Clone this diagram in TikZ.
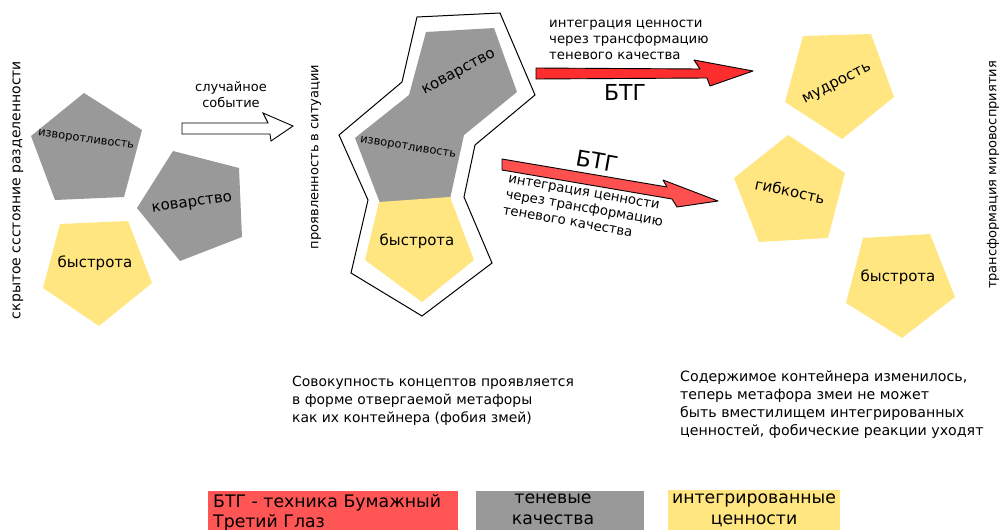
\documentclass[tikz,border=0pt]{standalone}
\usepackage{fontspec}
\setmainfont{DejaVu Sans}
\definecolor{shadowgray}{HTML}{999999}
\definecolor{valueyellow}{HTML}{FFE680}
\definecolor{btgred}{HTML}{FF5555}
\definecolor{arrowred}{HTML}{FF2E2E}
\definecolor{arrowredlight}{HTML}{FF5050}
\newcommand\fsz[2]{\fontsize{#1}{#2}\selectfont}
\tikzset{
  shadowq/.style={fill=shadowgray},
  valueq/.style={fill=valueyellow},
  petal/.style={inner sep=0pt, font=\fsz{15}{17}},
  smallpetal/.style={inner sep=0pt, font=\fsz{11.5}{13}},
  sidecap/.style={inner sep=0pt, rotate=90, font=\fsz{13}{15}},
  btg/.style={inner sep=0pt, font=\fsz{22}{24}},
  note/.style={inner sep=0pt, align=left, font=\fsz{13.3}{16}},
  caption/.style={inner sep=0pt, align=left, font=\fsz{14}{18}},
  legendtext/.style={inner sep=0pt, font=\fsz{17.3}{20.5}},
  redarrow/.style={draw=black, line width=0.9pt, line join=round},
}
\begin{document}
\begin{tikzpicture}[x=1pt,y=-1pt]
\useasboundingbox (0,0) rectangle (999,530);

% ---------- left group: hidden separated state ----------
\fill[shadowq] (84,93) -- (142,130) -- (124,197) -- (55,200) -- (31,136) -- cycle;
\fill[shadowq] (173,151) -- (239,168) -- (242,237) -- (180,261) -- (137,208) -- cycle;
\fill[valueq] (60,224) -- (128,221) -- (152,283) -- (99,326) -- (43,288) -- cycle;
\node[smallpetal, rotate=-8] (l1) at (86,140) {изворотливость};
\node[petal, rotate=8] (l2) at (192,204) {коварство};
\node[petal] (l3) at (95,263) {быстрота};

\node[sidecap, font=\fsz{14}{16}] (hidden) at (18,190) {скрытое ссстояние разделенности};
\node[sidecap] (manifest) at (316,157) {проявленность в ситуации};
\node[sidecap] (transform) at (993,175) {трансформация мировосприятия};

% random event arrow
\draw[line width=0.9pt, line join=miter, fill=white]
  (182,123) -- (268,123) -- (263,113) -- (293,126) -- (271,141) -- (270,134) -- (182,134) -- cycle;
\node[inner sep=0pt, align=center, font=\fsz{13}{16}] (event) at (231,95) {случайное\\событие};

% ---------- middle group: container ----------
\draw[line width=1pt, fill=white, line join=miter]
  (417,17) -- (500,13) -- (535,95) -- (475,145) -- (464,197) -- (492,263)
  -- (422,316) -- (351,273) -- (368,200) -- (339,135) -- (402,82) -- cycle;
% the two shadow qualities fused into one body
\fill[shadowq] (426,32) -- (494,28) -- (517,92) -- (464,135) -- (450,199)
  -- (380,203) -- (355,138) -- (409,95) -- cycle;
\fill[valueq] (379,202) -- (450,197) -- (474,260) -- (422,302) -- (365,260) -- cycle;
\node[petal, rotate=28] (m1) at (459,73) {коварство};
\node[smallpetal, rotate=-9] (m2) at (408,148) {изворотливость};
\node[petal] (m3) at (417,241) {быстрота};

% ---------- arrows: paper third eye technique ----------
\draw[redarrow, fill=arrowred]
  (536,68) -- (700,69) -- (694,60) -- (753,71) -- (710,86) -- (707,78) -- (536,79) -- cycle;
\node[note, anchor=north west] (topnote) at (549,20) {интеграция ценности\\через трансформацию\\теневого качества};
\node[btg] (btgtop) at (625,92) {БТГ};

\draw[redarrow, fill=arrowredlight]
  (502,159) -- (667,187) -- (663,180) -- (718,201) -- (677,207) -- (672,199) -- (502,170) -- cycle;
\node[btg, rotate=-10] (btgbottom) at (597,161) {БТГ};
\node[note, anchor=north west, rotate=-10] (bottomnote) at (509,175) {интеграция ценности\\через трансформацию\\теневого качества};

% ---------- right group: integrated values ----------
\fill[valueq] (803,36) -- (871,34) -- (894,97) -- (842,139) -- (785,102) -- cycle;
\fill[valueq] (788,135) -- (845,173) -- (828,238) -- (759,242) -- (734,178) -- cycle;
\fill[valueq] (863,238) -- (930,234) -- (955,297) -- (902,338) -- (846,303) -- cycle;
\node[petal, rotate=27] (r1) at (837,84) {мудрость};
\node[petal, rotate=-12] (r2) at (790,191) {гибкость};
\node[petal] (r3) at (898,277) {быстрота};

% ---------- captions ----------
\node[caption, font=\fsz{13.9}{18}, anchor=north west] (capleft) at (292,376)
  {Совокупность концептов проявляется\\в форме отвергаемой метафоры\\как их контейнера (фобия змей)};
\node[caption, font=\fsz{14.2}{18}, anchor=north west] (capright) at (680,371)
  {Содержимое контейнера изменилось,\\теперь метафора змеи не может\\быть вместилищем интегрированных\\ценностей, фобические реакции уходят};

% ---------- legend ----------
\fill[btgred] (208,491) rectangle (458,531);
\fill[shadowgray] (476,491) rectangle (644,531);
\fill[valueyellow] (668,490) rectangle (840,531);
\node[legendtext, align=left, anchor=north west] (legbtg) at (213,494) {БТГ - техника Бумажный\\Третий Глаз};
\node[legendtext, align=center, anchor=north] (legshadow) at (553,494) {теневые\\качества};
\node[legendtext, align=center, anchor=north] (legvalue) at (754,494) {интегрированные\\ценности};
\end{tikzpicture}
\end{document}
